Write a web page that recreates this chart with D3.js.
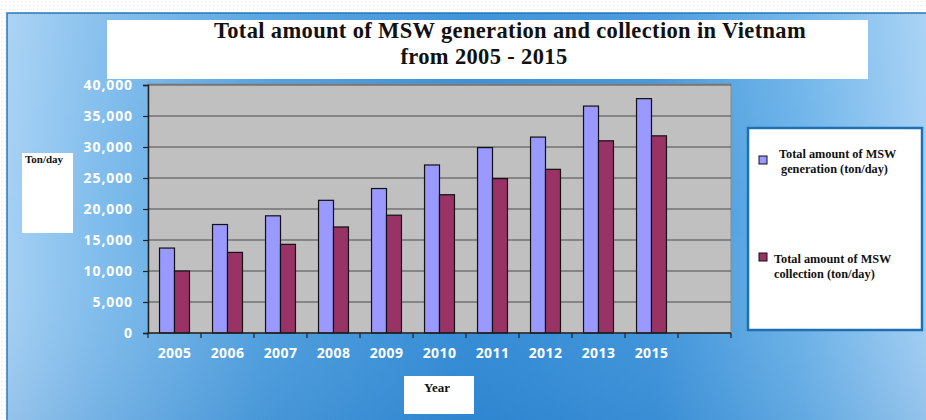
<!DOCTYPE html>
<html>
<head>
<meta charset="utf-8">
<script src="https://cdn.jsdelivr.net/npm/d3@7"></script>
<style>
  html, body { margin: 0; padding: 0; background: #ffffff; }
  svg { display: block; }
  .tick-label { font-family: "Noto Sans", "Open Sans", sans-serif; font-weight: 700; fill: #ffffff; }
  .serif { font-family: "Liberation Serif", "DejaVu Serif", serif; font-weight: 700; fill: #111; }
</style>
</head>
<body>
<script>
// Municipal solid waste in Vietnam, ton/day
const years = ["2005", "2006", "2007", "2008", "2009", "2010", "2011", "2012", "2013", "2015"];
const generation = [13700, 17500, 18900, 21400, 23300, 27100, 29900, 31600, 36600, 37800];
const collection = [10000, 13000, 14300, 17100, 19000, 22300, 24900, 26400, 31000, 31800];
const seriesNames = ["Total amount of MSW generation (ton/day)", "Total amount of MSW collection (ton/day)"];
const seriesColors = ["#9999ff", "#993366"];
const yTicks = [0, 5000, 10000, 15000, 20000, 25000, 30000, 35000, 40000];
const titleLines = ["Total amount of MSW generation and collection in Vietnam", "from 2005 - 2015"];

const W = 926, H = 420;
const svg = d3.select("body").append("svg").attr("width", W).attr("height", H);
const defs = svg.append("defs");

// dotted strip behind the frame
const pat = defs.append("pattern").attr("id", "dots").attr("width", 4).attr("height", 4)
  .attr("patternUnits", "userSpaceOnUse");
pat.append("rect").attr("width", 4).attr("height", 4).attr("fill", "#ffffff");
pat.append("rect").attr("x", 1).attr("y", 1).attr("width", 1).attr("height", 1).attr("fill", "#e4e4e4");
svg.append("rect").attr("width", W).attr("height", H).attr("fill", "url(#dots)");

// blue slide background: horizontal sweep plus a soft darker bottom
const bg = defs.append("linearGradient").attr("id", "bg").attr("x1", "0").attr("y1", "0").attr("x2", "1").attr("y2", "0");
[[0, "#a4d0f4"], [0.1, "#7fbcec"], [0.28, "#4d9ede"], [0.5, "#318bd6"], [0.7, "#3d94db"], [0.86, "#6cb3e9"], [1, "#a6d1f5"]]
  .forEach(([o, c]) => bg.append("stop").attr("offset", o).attr("stop-color", c));
const shade = defs.append("linearGradient").attr("id", "shade").attr("x1", "0").attr("y1", "0").attr("x2", "0").attr("y2", "1");
[[0, "#ffffff", 0.08], [0.5, "#ffffff", 0], [1, "#0a4f9a", 0.12]]
  .forEach(([o, c, a]) => shade.append("stop").attr("offset", o).attr("stop-color", c).attr("stop-opacity", a));
svg.append("rect").attr("x", 7).attr("y", 13).attr("width", W).attr("height", H)
  .attr("fill", "url(#bg)").attr("stroke", "#2b78b8").attr("stroke-width", 1.5);
svg.append("rect").attr("x", 8).attr("y", 14).attr("width", W).attr("height", H).attr("fill", "url(#shade)");

// plot geometry
const plot = { left: 148, right: 731, top: 84, bottom: 333 };
const x = d3.scaleBand().domain([...years, ""]).range([plot.left, plot.right]);
const xs = d3.scaleBand().domain([0, 1]).range([0, x.bandwidth()]).paddingOuter(0.77);
const y = d3.scaleLinear().domain([0, 40000]).range([plot.bottom, 85]);

svg.append("rect").attr("x", plot.left).attr("y", plot.top)
  .attr("width", plot.right - plot.left).attr("height", plot.bottom - plot.top)
  .attr("fill", "#c0c0c0").attr("stroke", "#8a8a8a").attr("stroke-width", 1);

// gridlines
svg.append("g").selectAll("line").data(yTicks.filter(d => d > 0)).join("line")
  .attr("x1", plot.left).attr("x2", plot.right)
  .attr("y1", d => y(d)).attr("y2", d => y(d))
  .attr("stroke", "#4a4a4a").attr("stroke-width", 1.2);

// bars
const rows = years.map((yr, i) => ({ yr, vals: [generation[i], collection[i]] }));
const groups = svg.append("g").selectAll("g").data(rows).join("g")
  .attr("transform", d => `translate(${x(d.yr)},0)`);
groups.selectAll("rect").data(d => d.vals.map((v, k) => ({ v, k }))).join("rect")
  .attr("x", d => xs(d.k)).attr("width", xs.bandwidth())
  .attr("y", d => y(d.v)).attr("height", d => y(0) - y(d.v))
  .attr("fill", d => seriesColors[d.k]).attr("stroke", "#111").attr("stroke-width", 1.2);

// y axis
const yAxis = svg.append("g").attr("transform", `translate(${plot.left},0)`)
  .call(d3.axisLeft(y).tickValues(yTicks).tickFormat(d3.format(",")).tickSize(5).tickPadding(10));
yAxis.select(".domain").attr("stroke", "#222").attr("stroke-width", 1.5);
yAxis.selectAll(".tick line").attr("stroke", "#222").attr("stroke-width", 1.2);
yAxis.selectAll(".tick text").attr("class", "tick-label").style("font-size", "14px").style("letter-spacing", "0.9px");

// x axis: ticks on category boundaries, labels centred on categories
const xAxis = svg.append("g");
xAxis.append("line").attr("x1", plot.left).attr("x2", plot.right)
  .attr("y1", plot.bottom).attr("y2", plot.bottom).attr("stroke", "#222").attr("stroke-width", 1.5);
xAxis.selectAll("line.tk").data(x.domain().concat(["__end"])).join("line").attr("class", "tk")
  .attr("x1", d => d === "__end" ? plot.right : x(d)).attr("x2", d => d === "__end" ? plot.right : x(d))
  .attr("y1", plot.bottom).attr("y2", plot.bottom + 5).attr("stroke", "#222").attr("stroke-width", 1.2);
xAxis.selectAll("text").data(years).join("text").attr("class", "tick-label")
  .attr("x", d => x(d) + x.bandwidth() / 2).attr("y", 358)
  .attr("text-anchor", "middle").style("font-size", "14px").style("letter-spacing", "0.4px").text(d => d);

// title box
svg.append("rect").attr("x", 107).attr("y", 20).attr("width", 761).attr("height", 59).attr("fill", "#ffffff");
svg.append("text").attr("class", "serif").attr("x", 510).attr("y", 37.5).attr("text-anchor", "middle")
  .style("font-size", "22.5px").style("letter-spacing", "0.35px").text(titleLines[0]);
svg.append("text").attr("class", "serif").attr("x", 484).attr("y", 63.5).attr("text-anchor", "middle")
  .style("font-size", "22.5px").style("letter-spacing", "0.35px").text(titleLines[1]);

// axis title boxes
svg.append("rect").attr("x", 22).attr("y", 153).attr("width", 51).attr("height", 80).attr("fill", "#ffffff");
svg.append("text").attr("class", "serif").attr("x", 25).attr("y", 163).style("font-size", "11px").text("Ton/day");
svg.append("rect").attr("x", 404).attr("y", 376).attr("width", 70).attr("height", 38).attr("fill", "#ffffff");
svg.append("text").attr("class", "serif").attr("x", 437).attr("y", 392).attr("text-anchor", "middle")
  .style("font-size", "13px").text("Year");

// legend
svg.append("rect").attr("x", 748).attr("y", 128).attr("width", 174).attr("height", 202)
  .attr("fill", "#ffffff").attr("stroke", "#1f6fb4").attr("stroke-width", 2.5);
const legendItems = [
  { sq: [759, 156], tx: 779, base: 158, lines: ["Total amount of MSW", "generation (ton/day)"] },
  { sq: [759, 253], tx: 774, base: 263, lines: ["Total amount of MSW", "collection (ton/day)"] }
];
legendItems.forEach((it, i) => {
  svg.append("rect").attr("x", it.sq[0]).attr("y", it.sq[1]).attr("width", 8).attr("height", 8)
    .attr("fill", seriesColors[i]).attr("stroke", "#111").attr("stroke-width", 1);
  it.lines.forEach((ln, j) => {
    svg.append("text").attr("class", "serif").attr("x", it.tx + (j === 1 && i === 0 ? 2 : 0))
      .attr("y", it.base + j * 15).style("font-size", "12.3px").text(ln);
  });
});
</script>
</body>
</html>
